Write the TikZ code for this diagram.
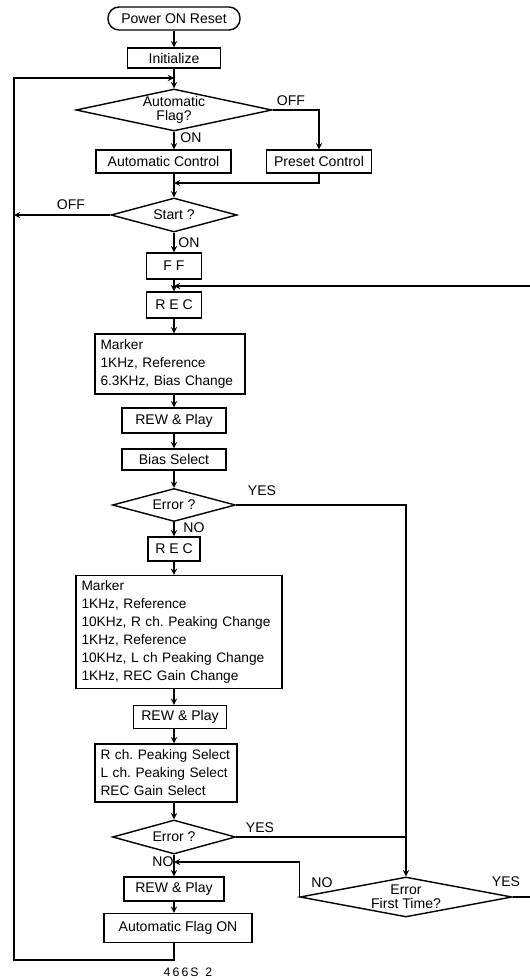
\documentclass[tikz,border=0pt]{standalone}
\usepackage{fontspec}
\setmainfont{Liberation Sans}
\usetikzlibrary{shapes.geometric}
\frenchspacing
\hyphenpenalty=10000
\tikzstyle{flowChart} = [x = 0.02cm, y = -0.02cm, every node/.style={font=\fontsize{8}{10.2}\selectfont}]
\tikzstyle{boxStyle} = [draw, thick, inner sep = 0pt]
\tikzstyle{startStyle} = [boxStyle, rounded corners = .22cm]
\tikzstyle{listStyle} = [boxStyle, align = left, inner xsep = .11cm, font=\fontsize{7.8}{10.2}\selectfont]
\tikzstyle{decisionStyle} = [draw, thick, diamond, inner sep = 0pt, aspect = 4.5, align = center, font=\fontsize{8}{8}\selectfont]
\tikzstyle{flowLine} = [semithick]
\tikzstyle{flowArrow} = [semithick, ->, >=stealth]
\tikzstyle{branchText} = [inner sep = 0pt]
\newcommand{\px}{0.02cm}
\newcommand{\processBox}[6]{
  \pgfmathsetlengthmacro{\boxW}{#4*\px}
  \pgfmathsetlengthmacro{\boxH}{#5*\px}
  \node [boxStyle, minimum width = \boxW, minimum height = \boxH] (#1) at (#2, #3) {#6};
}
\newcommand{\listBox}[6]{
  \pgfmathsetlengthmacro{\boxW}{(#4 - 11)*\px}
  \pgfmathsetlengthmacro{\boxH}{#5*\px}
  \node [listStyle, text width = \boxW, minimum height = \boxH] (#1) at (#2, #3) {#6};
}
\newcommand{\decisionBox}[6]{
  \pgfmathsetlengthmacro{\boxW}{#4*\px}
  \pgfmathsetlengthmacro{\boxH}{#5*\px}
  \node [decisionStyle, minimum width = \boxW, minimum height = \boxH] (#1) at (#2, #3) {#6};
}

\begin{document}
\begin{tikzpicture}[flowChart]
  \useasboundingbox (0,0) rectangle (530,980);
  \coordinate (axis) at (174,0);

  \node [startStyle, minimum width = 132*\px, minimum height = 23*\px] (power) at (174,18.5) {Power ON Reset};
  \processBox{init}{174}{58}{93}{20}{Initialize}
  \decisionBox{autoFlag}{174}{110}{196}{42}{Automatic\\Flag?}
  \processBox{autoCtrl}{163.5}{161.5}{135}{23}{Automatic Control}
  \processBox{presetCtrl}{319}{161.5}{105}{23}{Preset Control}
  \decisionBox{start}{174}{215}{126}{34}{Start ?}
  \processBox{ff}{174}{266}{55}{26}{F F}
  \processBox{rec}{174}{305}{55}{26}{R E C}
  \listBox{markerA}{170}{364}{150}{60}{Marker\\1KHz, Reference\\6.3KHz, Bias Change}
  \processBox{rewA}{174}{420.5}{104}{25}{REW \& Play}
  \processBox{biasSel}{174}{459.5}{104}{21}{Bias Select}
  \decisionBox{errA}{174}{505}{123}{33}{Error ?}
  \processBox{recB}{174}{549}{52}{24}{R E C}
  \listBox{markerB}{179}{632}{206}{113}{Marker\\1KHz, Reference\\10KHz, R ch. Peaking Change\\1KHz, Reference\\10KHz, L ch Peaking Change\\1KHz, REC Gain Change}
  \processBox{rewB}{180}{717}{93}{23}{REW \& Play}
  \listBox{selB}{166}{773}{142}{58}{R ch. Peaking Select\\L ch. Peaking Select\\REC Gain Select}
  \decisionBox{errB}{174}{837}{123}{34}{Error ?}
  \decisionBox{errFirst}{406}{897}{212}{40}{Error\\First Time?}
  \processBox{rewC}{174}{889}{100}{24}{REW \& Play}
  \processBox{flagOn}{178}{928}{148}{29}{Automatic Flag ON}

  \node [branchText] (autoFlagOff) at (291,101) {OFF};
  \node [branchText] (autoFlagOn) at (191,138) {ON};
  \node [branchText] (startOff) at (71,205) {OFF};
  \node [branchText] (startOn) at (189,243) {ON};
  \node [branchText] (errAYes) at (262,491) {YES};
  \node [branchText] (errANo) at (194,528) {NO};
  \node [branchText] (errBYes) at (260,828) {YES};
  \node [branchText] (errBNo) at (163,862) {NO};
  \node [branchText] (errFirstNo) at (322,883) {NO};
  \node [branchText] (errFirstYes) at (506,882) {YES};
  \node [branchText, font=\fontsize{7}{7}\selectfont] (figNumber) at (188,972) {4\,6\,6\,S\ \ 2};

  \coordinate (loopTop) at (14,78);
  \coordinate (loopBottom) at (14,960);
  \coordinate (joinTop) at (174,78);
  \coordinate (joinPreset) at (174,183);
  \coordinate (joinRet) at (174,286);
  \coordinate (retCorner) at (545,286);
  \coordinate (joinNo) at (174,862);

  \foreach \from/\to in {power/init, init/autoFlag, autoFlag/autoCtrl, autoCtrl/start, start/ff, ff/rec, rec/markerA, markerA/rewA, rewA/biasSel, biasSel/errA, errA/recB, recB/markerB, markerB/rewB, rewB/selB, selB/errB, errB/rewC, rewC/flagOn} {
    \draw [flowArrow] (\from.south -| axis) -- (axis |- \to.north);
  }

  \draw [flowArrow] (autoFlag.east) -| (presetCtrl.north);
  \draw [flowArrow] (presetCtrl.south) |- (joinPreset);
  \draw [flowArrow] (start.west) -- (start.west -| loopTop);
  \draw [flowArrow] (flagOn.south -| axis) -- (axis |- loopBottom) -- (loopBottom) -- (loopTop) -- (joinTop);
  \draw [flowArrow] (errA.east) -| (errFirst.north);
  \draw [flowLine] (errB.east) -- (errB.east -| errFirst.north);
  \draw [flowArrow] (errFirst.west) |- (joinNo);
  \draw [flowArrow] (errFirst.east) -| (retCorner) -- (joinRet);
\end{tikzpicture}
\end{document}
